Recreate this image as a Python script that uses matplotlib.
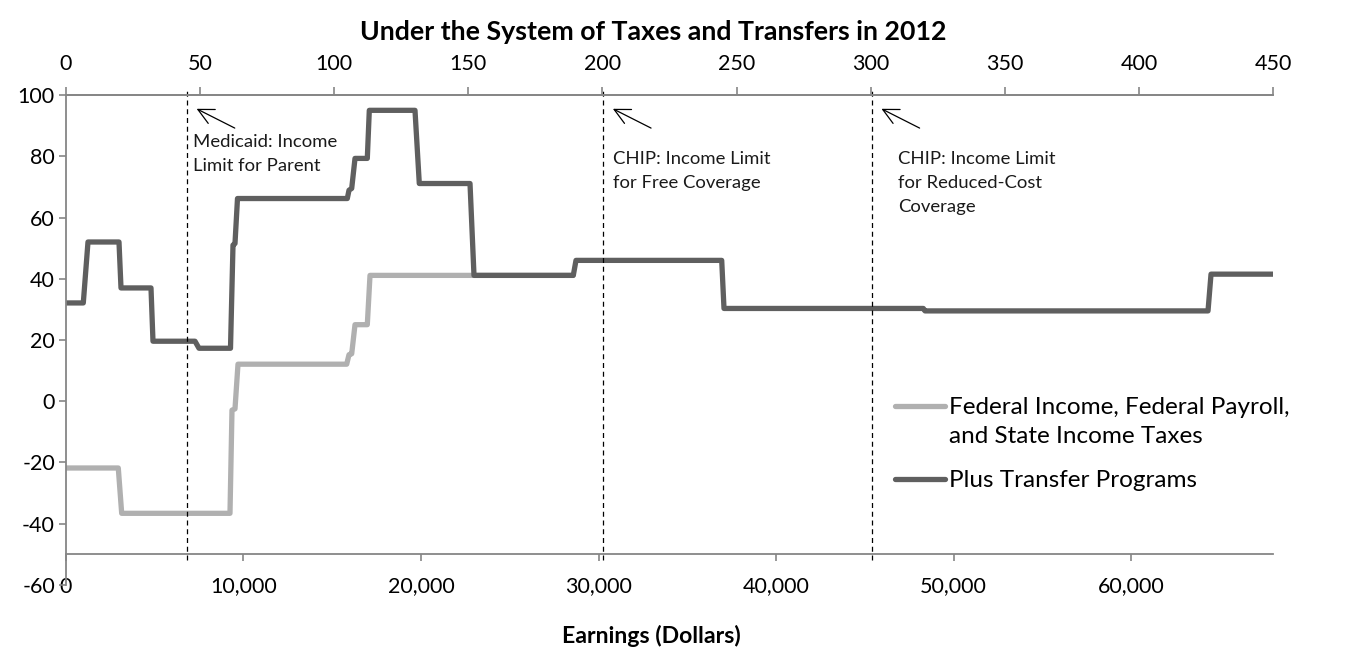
import matplotlib
matplotlib.use("Agg")
import matplotlib.pyplot as plt
from matplotlib.ticker import FuncFormatter

plt.rcParams['font.family'] = ['Lato', 'DejaVu Sans']
plt.rcParams['axes.unicode_minus'] = False

# earnings (dollars) and effective marginal tax rate (percent)
taxes_x = [0, 2946, 3138, 9239, 9352, 9521, 9690, 15814, 15944, 16096, 16282,
           16975, 17127, 28563]
taxes_y = [-21.8, -21.8, -36.6, -36.6, -2.9, -2.5, 12.1, 12.1, 15.2, 15.5, 25.0,
           25.0, 41.1, 41.1]

transfers_x = [0, 975, 1014, 1239, 2986, 3099, 4789, 4901, 7268, 7493, 9268,
               9409, 9521, 9662, 15848, 15944, 16096, 16282, 16975, 17088, 19662,
               19904, 22761, 22986, 28580, 28732, 36941, 37070, 48299, 48394,
               64338, 64507, 68000]
transfers_y = [32.1, 32.1, 35.0, 52.0, 52.0, 37.0, 37.0, 19.6, 19.6, 17.3, 17.3,
               51.0, 51.5, 66.2, 66.2, 68.9, 69.5, 79.3, 79.3, 95.0, 95.0, 71.1,
               71.1, 41.1, 41.1, 46.0, 46.0, 30.3, 30.3, 29.5, 29.5, 41.5, 41.5]

series_labels = ["Federal Income, Federal Payroll,\nand State Income Taxes",
                 "Plus Transfer Programs"]
series_colors = ['#b0b0b0', '#5f5f5f']

# income limits, percent of poverty guideline
limits_pct = [45, 200, 300]
limit_labels = ["Medicaid: Income\nLimit for Parent",
                "CHIP: Income Limit\nfor Free Coverage",
                "CHIP: Income Limit\nfor Reduced-Cost\nCoverage"]
poverty_line = 15130

x_max = 68000
pct_max = 450
y_ticks = [-60, -40, -20, 0, 20, 40, 60, 80, 100]
x_ticks = [0, 10000, 20000, 30000, 40000, 50000, 60000]
pct_ticks = [0, 50, 100, 150, 200, 250, 300, 350, 400, 450]

axis_grey = '#868686'

fig = plt.figure(figsize=(13.55, 6.71), dpi=100)
ax = fig.add_axes([0.0487, 0.1282, 0.8908, 0.7302])

ax.plot(taxes_x, taxes_y, color=series_colors[0], lw=3.8,
        solid_joinstyle='round', solid_capstyle='round')
ax.plot(transfers_x, transfers_y, color=series_colors[1], lw=3.8,
        solid_joinstyle='round', solid_capstyle='round')

ax.set_xlim(0, x_max)
ax.set_ylim(-60, 100)

for p in limits_pct:
    xv = p * poverty_line / 100
    ax.plot([xv, xv], [-52, 101.5], color='black', lw=0.9,
            ls=(0, (4, 3)), clip_on=False)

# annotations (arrow head near the top of each limit line)
ann_text_pos = [(7150, 87.3), (30800, 81.6), (46870, 81.6)]
for p, lab, tp in zip(limits_pct, limit_labels, ann_text_pos):
    xv = p * poverty_line / 100
    ax.annotate("", xy=(xv + 550, 95.5), xytext=(xv + 2700, 89.2),
                arrowprops=dict(arrowstyle='->,head_length=0.8,head_width=0.4',
                                color='black', lw=0.9, shrinkA=0, shrinkB=0,
                                mutation_scale=14))
    ax.text(tp[0], tp[1], lab, fontsize=13.3, va='top', ha='left',
            linespacing=1.6, color='#1a1a1a')

ax.spines['right'].set_visible(False)
for s in ['left', 'top', 'bottom']:
    ax.spines[s].set_color(axis_grey)
    ax.spines[s].set_linewidth(1.3)
ax.spines['bottom'].set_position(('data', -50))

ax.set_yticks(y_ticks)
ax.set_xticks(x_ticks)
ax.xaxis.set_major_formatter(FuncFormatter(lambda v, p: f"{int(v):,}"))
ax.tick_params(axis='y', direction='out', length=5, width=1.2, color=axis_grey,
               labelsize=15.5, pad=3)
ax.tick_params(axis='x', direction='out', length=5, width=1.2, color=axis_grey,
               labelsize=15.5, pad=11)

ax2 = ax.twiny()
ax2.set_xlim(0, pct_max)
ax2.set_xticks(pct_ticks)
for s in ['left', 'right', 'bottom']:
    ax2.spines[s].set_visible(False)
ax2.spines['top'].set_color(axis_grey)
ax2.spines['top'].set_linewidth(1.3)
ax2.tick_params(axis='x', direction='out', length=6, width=1.2, color=axis_grey,
                labelsize=15.5, pad=9)

# legend: handle lined up with the first text line of each entry
legend_rows = [0.3653, 0.2163]
for lab, col, yy in zip(series_labels, series_colors, legend_rows):
    ax.plot([0.6868, 0.7283], [yy, yy], color=col, lw=3.8,
            solid_capstyle='round', transform=ax.transAxes)
    ax.text(0.7316, yy + 0.018, lab, transform=ax.transAxes, fontsize=17.5,
            va='top', ha='left', linespacing=1.45)

fig.text(0.482, 0.953, "Under the System of Taxes and Transfers in 2012",
         ha='center', va='center', fontsize=19.3, fontweight='bold')
fig.text(0.481, 0.052, "Earnings (Dollars)", ha='center', va='center',
         fontsize=16.6, fontweight='bold')

fig.savefig("out.png", dpi=100)
